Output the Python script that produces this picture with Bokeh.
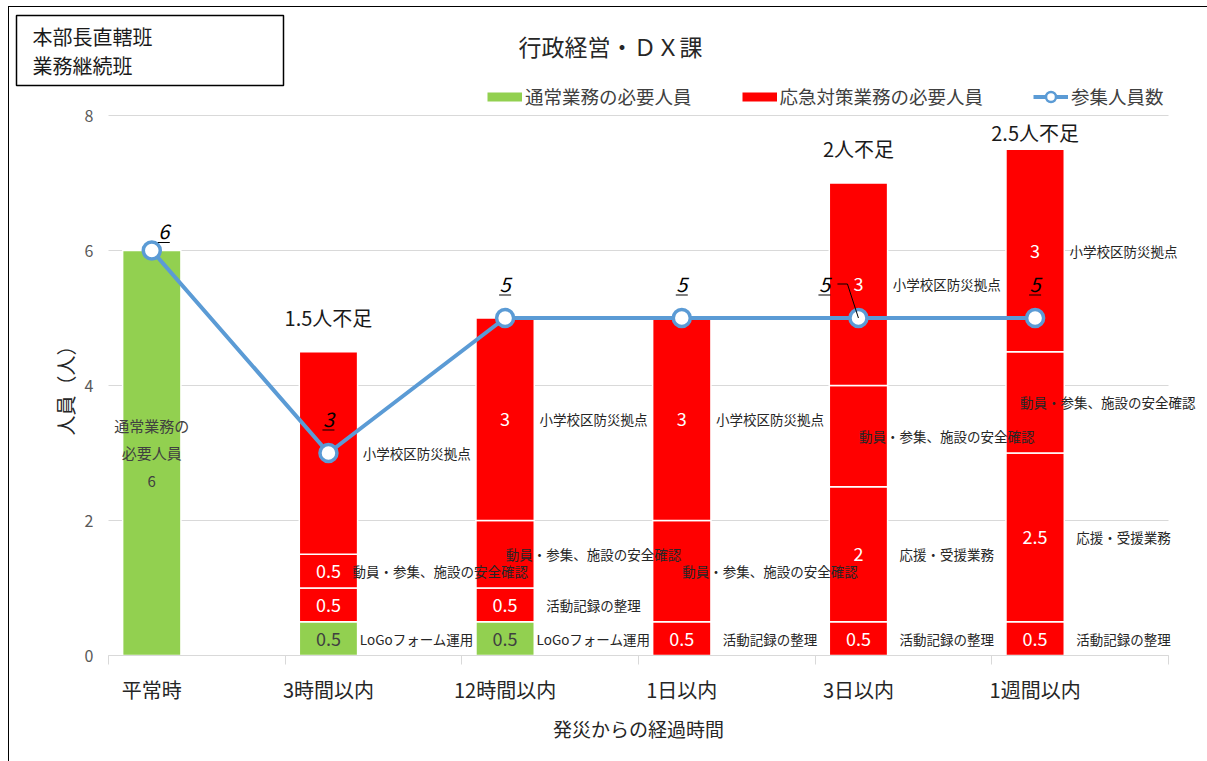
import numpy as np
from bokeh.plotting import figure
from bokeh.models import (ColumnDataSource, FixedTicker, Legend, LegendItem, Label, Range1d,
                          LinearAxis)
from bokeh.core.properties import value
from bokeh.embed import file_html
from bokeh.resources import INLINE

# ---------------- data ----------------
categories = ["平常時", "3時間以内", "12時間以内", "1日以内", "3日以内", "1週間以内"]
normal_need = [6, 0.5, 0.5, 0, 0, 0]          # 通常業務の必要人員 (green)
record_need = [0, 0.5, 0.5, 0.5, 0.5, 0.5]    # 活動記録の整理
support_need = [0, 0, 0, 0, 2, 2.5]           # 応援・受援業務
mobilize_need = [0, 0.5, 1, 1.5, 1.5, 1.5]    # 動員・参集、施設の安全確認
school_need = [0, 3, 3, 3, 3, 3]              # 小学校区防災拠点
attendees = [6, 3, 5, 5, 5, 5]                # 参集人員数

normal_names = ["通常業務の\n必要人員", "LoGoフォーム運用", "LoGoフォーム運用", "", "", ""]
record_names = ["", "", "活動記録の整理", "活動記録の整理", "活動記録の整理", "活動記録の整理"]
support_names = ["", "", "", "", "応援・受援業務", "応援・受援業務"]
mobilize_names = ["", "動員・参集、施設の安全確認", "動員・参集、施設の安全確認",
                  "動員・参集、施設の安全確認", "動員・参集、施設の安全確認", "動員・参集、施設の安全確認"]
school_names = ["", "小学校区防災拠点", "小学校区防災拠点", "小学校区防災拠点",
                "小学校区防災拠点", "小学校区防災拠点"]

# which segment value labels are displayed
normal_show = [1, 1, 1, 0, 0, 0]
record_show = [0, 1, 1, 1, 1, 1]
support_show = [0, 0, 0, 0, 1, 1]
mobilize_show = [0, 1, 0, 0, 0, 0]
school_show = [0, 0, 1, 1, 1, 1]

y_ticks = [0, 2, 4, 6, 8]

# ---------------- style / layout ----------------
FONT = "Noto Sans CJK JP"
GREEN = "#92D050"
RED = "#FF0000"
BLUE = "#5B9BD5"
GRID = "#D9D9D9"
TXT = "#404040"

W, H = 1207, 761
# plot area (axes box) inside the canvas, in px
PL, PR, PT, PB = 108, 1168, 115, 655
X_START, X_END = -0.245, 5.755
Y_START, Y_END = 0, 8
PX_X = (PR - PL) / (X_END - X_START)
PX_Y = (PB - PT) / (Y_END - Y_START)
BAR_W = 0.33
NAME_PX = 13.5

# line-label offsets in screen px (dx right, dy up)
lab_dx = [12, 0, 0, 0, -34, 0]
lab_dy = [19, 34, 34, 34, 34, 34]

p = figure(width=W, height=H, output_backend="svg", toolbar_location=None,
           x_range=Range1d(X_START - PL / PX_X, X_END + (W - PR) / PX_X),
           y_range=Range1d(Y_START - (H - PB) / PX_Y, Y_END + PT / PX_Y),
           x_axis_location=None, y_axis_location=None, min_border=0)
p.outline_line_color = None
p.xgrid.visible = False
p.ygrid.visible = False
p.background_fill_alpha = 0
p.border_fill_alpha = 0
p.styles = {"background": "linear-gradient(#000,#000) 8px 6px / 1px 100% no-repeat, "
                          "linear-gradient(#000,#000) 8px 6px / 100% 1px no-repeat, #ffffff"}

# horizontal gridlines
p.segment(x0=X_START, x1=X_END, y0=y_ticks, y1=y_ticks, line_color=GRID, line_width=1)

x = np.arange(len(categories))
series = [
    (normal_need, normal_names, normal_show, GREEN, TXT),
    (record_need, record_names, record_show, RED, "white"),
    (support_need, support_names, support_show, RED, "white"),
    (mobilize_need, mobilize_names, mobilize_show, RED, "white"),
    (school_need, school_names, school_show, RED, "white"),
]


def text_w(s, fs):
    return sum(0.55 if ord(ch) < 128 else 1.0 for ch in s) * fs


red_total = (np.array(record_need) + np.array(support_need) + np.array(mobilize_need)
             + np.array(school_need))
bottom = np.zeros(len(categories))
val_x, val_y, val_t, val_c = [], [], [], []
in_x, in_y, in_t = [], [], []
nm_x, nm_y, nm_t = [], [], []
x_limit = X_END + (W - 12 - PR) / PX_X
for vals, names, show, color, tcol in series:
    vals = np.array(vals, dtype=float)
    top = bottom + vals
    mask = vals > 0
    src = ColumnDataSource(dict(x=x[mask], bottom=bottom[mask], top=top[mask]))
    p.vbar(x="x", bottom="bottom", top="top", width=BAR_W, source=src,
           fill_color=color, line_color="white", line_width=1.5)
    for i in range(len(categories)):
        if vals[i] <= 0:
            continue
        mid = (bottom[i] + top[i]) / 2
        if color == GREEN and red_total[i] == 0:
            in_x.append(x[i]); in_y.append(mid)
            in_t.append(names[i] + "\n" + f"{vals[i]:g}")
            continue
        if show[i]:
            val_x.append(x[i]); val_y.append(mid); val_t.append(f"{vals[i]:g}"); val_c.append(tcol)
        if names[i]:
            half = text_w(names[i], NAME_PX) / 2 / PX_X
            cx = x[i] + 0.5
            if show[i]:
                # keep clear of the value label inside the bar
                cx = max(cx, x[i] + BAR_W / 2 - 5 / PX_X + half)
            cx = min(cx, x_limit - half)
            nm_x.append(cx); nm_y.append(mid); nm_t.append(names[i])
    bottom = top

need_total = bottom.copy()

# segment value labels
p.text(x="x", y="y", text="t", text_color="c",
       source=ColumnDataSource(dict(x=val_x, y=val_y, t=val_t, c=val_c)),
       text_font=value(FONT), text_font_size="18px", text_align="center", text_baseline="middle")
# inside label for normal-time bar
p.text(x="x", y="y", text="t", source=ColumnDataSource(dict(x=in_x, y=in_y, t=in_t)),
       text_font=value(FONT), text_font_size="15px", text_align="center", text_baseline="middle",
       text_color=TXT, text_line_height=1.3)
# task-name labels
p.text(x="x", y="y", text="t", source=ColumnDataSource(dict(x=nm_x, y=nm_y, t=nm_t)),
       text_font=value(FONT), text_font_size=f"{NAME_PX}px", text_align="center",
       text_baseline="middle", text_color="#262626")

# shortage labels
sh_x, sh_y, sh_t = [], [], []
for i in range(len(categories)):
    short = need_total[i] - attendees[i]
    if short > 0:
        sh_x.append(x[i]); sh_y.append(min(need_total[i] + 0.3, 7.54)); sh_t.append(f"{short:g}人不足")
p.text(x="x", y="y", text="t", source=ColumnDataSource(dict(x=sh_x, y=sh_y, t=sh_t)),
       text_font=value(FONT), text_font_size="20px", text_align="center", text_baseline="bottom",
       text_color="#1a1a1a")

# attendees line
line_r = p.line(x, attendees, line_color=BLUE, line_width=4)
p.scatter(x, attendees, size=17, fill_color="white", line_color=BLUE, line_width=3.5)

# attendees labels (italic, underlined)
lx = x + np.array(lab_dx) / PX_X
ly = np.array(attendees) + np.array(lab_dy) / PX_Y
p.text(x=lx, y=ly, text=[f"{v:g}" for v in attendees], text_font=value(FONT),
       text_font_size="20px", text_font_style="italic", text_align="center",
       text_baseline="middle", text_color="black")
ul_y = ly - 11 / PX_Y
p.segment(x0=lx - 6 / PX_X, x1=lx + 6 / PX_X, y0=ul_y, y1=ul_y, line_color="black", line_width=1)
for i in range(len(categories)):
    if abs(lab_dx[i]) > 20:
        p.line([lx[i] + 13 / PX_X, lx[i] + 23 / PX_X, x[i]], [ly[i], ly[i], attendees[i]],
               line_color="black", line_width=1)

# legend proxies (hidden renderers, only their legend glyphs are drawn)
g_proxy = p.line(x, normal_need, line_color=GREEN, line_width=9, visible=False)
r_proxy = p.line(x, school_need, line_color=RED, line_width=9, visible=False)
b_proxy = p.scatter(x, attendees, fill_color="white", line_color=BLUE, line_width=2.5,
                    visible=False)
legend = Legend(items=[
    LegendItem(label="通常業務の必要人員", renderers=[g_proxy]),
    LegendItem(label="応急対策業務の必要人員", renderers=[r_proxy]),
    LegendItem(label="参集人員数", renderers=[line_r, b_proxy]),
], orientation="horizontal", location=(487, H - 109), padding=0, margin=0, spacing=50,
   glyph_width=35, glyph_height=25, label_standoff=3, border_line_color=None,
   background_fill_alpha=0, label_text_font=FONT, label_text_font_size="18.5px",
   label_text_color=TXT, click_policy="none")
p.add_layout(legend, "center")

# axes (fixed inside the canvas-wide frame)
xa = LinearAxis(fixed_location=0, bounds=(X_START, X_END))
xa.ticker = FixedTicker(ticks=list(x), minor_ticks=[X_START + k for k in range(len(categories) + 1)])
xa.major_label_overrides = {int(i): c for i, c in zip(x, categories)}
xa.major_tick_line_color = None
xa.major_tick_out = 0
xa.major_tick_in = 0
xa.minor_tick_line_color = GRID
xa.minor_tick_out = 9
xa.minor_tick_in = 0
xa.axis_line_color = GRID
xa.major_label_text_font = FONT
xa.major_label_text_font_size = "20px"
xa.major_label_text_color = "#262626"
xa.major_label_standoff = 10
xa.axis_label = "発災からの経過時間"
xa.axis_label_text_font = FONT
xa.axis_label_text_font_size = "19px"
xa.axis_label_text_font_style = "normal"
xa.axis_label_text_color = "#262626"
xa.axis_label_standoff = 8
p.add_layout(xa, "below")

ya = LinearAxis(fixed_location=X_START, bounds=(Y_START, Y_END))
ya.ticker = FixedTicker(ticks=y_ticks)
ya.axis_line_color = None
ya.major_tick_line_color = None
ya.minor_tick_line_color = None
ya.major_label_text_font = FONT
ya.major_label_text_font_size = "16px"
ya.major_label_text_color = "#595959"
ya.major_label_standoff = 9
ya.axis_label = "人員（人）"
ya.axis_label_text_font = FONT
ya.axis_label_text_font_size = "20px"
ya.axis_label_text_font_style = "normal"
ya.axis_label_text_color = "#262626"
ya.axis_label_standoff = 2
p.add_layout(ya, "left")

# title and top-left box
p.add_layout(Label(x=610, y=H - 45, x_units="screen", y_units="screen",
                   text="行政経営・ＤＸ課", text_font=FONT, text_font_size="23px",
                   text_align="center", text_baseline="middle", text_color="#262626"))
box_kw = dict(x=16, y=H - 15, x_units="screen", y_units="screen",
              text="本部長直轄班\n業務継続班", text_font=FONT, text_font_size="20px",
              text_align="left", text_baseline="top", text_color="#1a1a1a", text_line_height=1.0,
              border_line_color="black", border_line_width=1.5)
try:
    box = Label(padding=dict(left=16, right=131, top=6, bottom=6), **box_kw)
except Exception:
    box = Label(padding=8, **box_kw)
p.add_layout(box)

open("out.html", "w").write(file_html(p, INLINE))
